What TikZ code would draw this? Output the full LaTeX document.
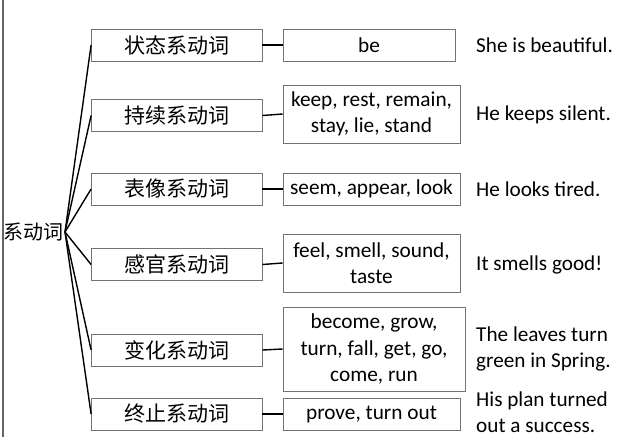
\documentclass[tikz,border=0pt]{standalone}
\usepackage{fontspec}
\setmainfont{Carlito}
\newfontfamily\cjk{Noto Sans CJK SC}
\begin{document}
\begin{tikzpicture}[x=1pt,y=-1pt,
  catbox/.style={draw=black!55, line width=0.8pt, minimum width=170.5pt, minimum height=32pt, inner sep=0pt,
    font=\cjk\fontsize{21}{25}\selectfont},
  verbbox/.style={draw=black!55, line width=0.8pt, inner sep=0pt, align=center,
    font=\fontsize{21.3}{26.5}\selectfont},
  example/.style={anchor=west, inner sep=0pt, align=left, font=\fontsize{21.2}{26}\selectfont},
  link/.style={line width=1.4pt, black}]
\useasboundingbox (0,0) rectangle (640,437);
\draw[black!60, line width=1.4pt] (3,0) -- (3,437);
% root
\node[inner sep=0pt, font=\cjk\fontsize{20}{24}\selectfont] (root) at (34,232) {系动词};
\coordinate (hub) at (65,232);
% categories
\node[catbox] (c1) at (176.75,45) {状态系动词};
\node[catbox] (c2) at (176.75,115.5) {持续系动词};
\node[catbox] (c3) at (176.75,189) {表像系动词};
\node[catbox] (c4) at (176.75,264.5) {感官系动词};
\node[catbox] (c5) at (176.75,350) {变化系动词};
\node[catbox] (c6) at (176.75,414) {终止系动词};
% verbs
\node[verbbox, minimum width=172pt, minimum height=32pt] (v1) at (369,45) {be};
\node[verbbox, minimum width=177pt, minimum height=58pt] (v2) at (371.5,114) {keep, rest, remain,\\stay, lie, stand};
\node[verbbox, minimum width=177pt, minimum height=32pt] (v3) at (371.5,189) {seem, appear, look};
\node[verbbox, minimum width=177pt, minimum height=58pt] (v4) at (371.5,263) {feel, smell, sound,\\taste};
\node[verbbox, minimum width=182pt, minimum height=84pt] (v5) at (374,349) {become, grow,\\turn, fall, get, go,\\come, run};
\node[verbbox, minimum width=177pt, minimum height=32pt] (v6) at (371.5,414) {prove, turn out};
% examples
\node[example] (e1) at (476,45) {She is beautiful.};
\node[example] (e2) at (476,115) {He keeps silent.};
\node[example] (e3) at (476,189) {He looks tired.};
\node[example] (e4) at (476,265) {It smells good!};
\node[example] (e5) at (476,349) {The leaves turn\\green in Spring.};
\node[example] (e6) at (476,412) {His plan turned\\out a success.};
% connectors
\foreach \i in {1,...,6} {
  \draw[link] (hub) -- (c\i.west);
  \draw[link] (c\i.east) -- (v\i.west);
}
\end{tikzpicture}
\end{document}
